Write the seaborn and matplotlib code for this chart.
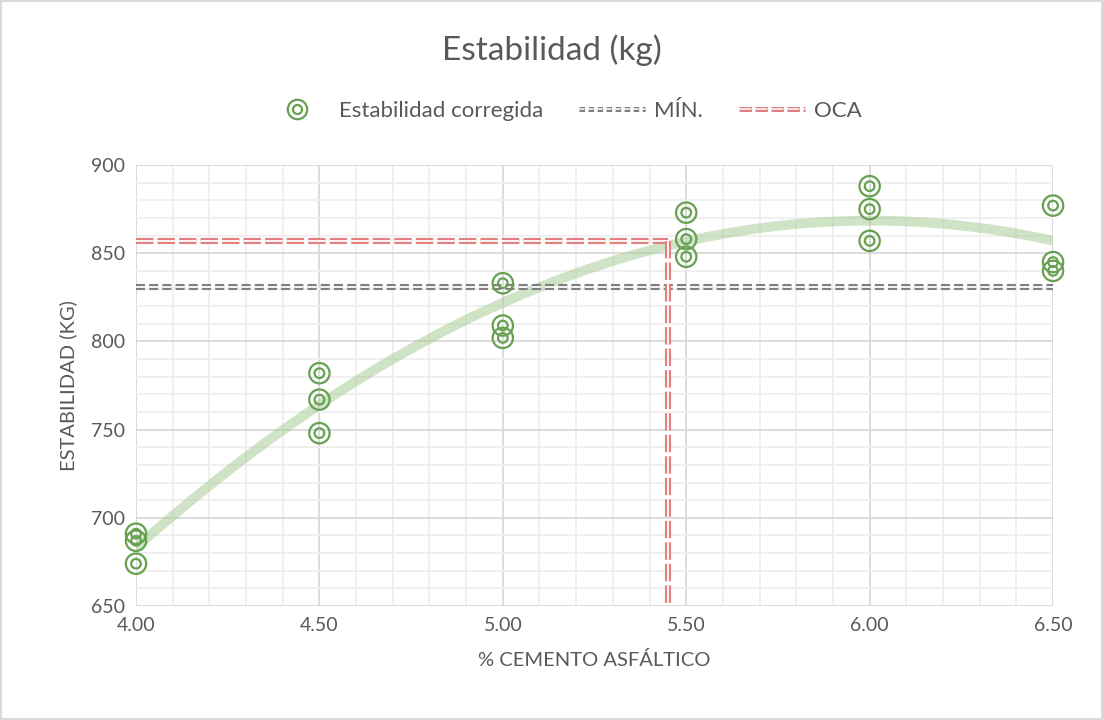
import numpy as np
import pandas as pd
import matplotlib
matplotlib.use("Agg")
import matplotlib.pyplot as plt
import matplotlib.patheffects as pe
from matplotlib.lines import Line2D
from matplotlib.legend_handler import HandlerTuple
from matplotlib.ticker import MultipleLocator, FormatStrFormatter
import seaborn as sns

# Marshall test results: asphalt content (%) vs corrected stability (kg)
asphalt_content = [4.0, 4.0, 4.0,
                   4.5, 4.5, 4.5,
                   5.0, 5.0, 5.0,
                   5.5, 5.5, 5.5,
                   6.0, 6.0, 6.0,
                   6.5, 6.5, 6.5]
stability = [691, 687, 674,
             782, 767, 748,
             833, 809, 802,
             873, 858, 848,
             888, 875, 857,
             877, 845, 840]

min_stability = 831      # specification minimum (kg)
oca_content = 5.45       # optimum asphalt content (%)
oca_stability = 857      # stability at optimum content (kg)

x_ticks = [4.0, 4.5, 5.0, 5.5, 6.0, 6.5]
y_ticks = [650, 700, 750, 800, 850, 900]

df = pd.DataFrame({"asfalto": asphalt_content, "estabilidad": stability})

sns.set_theme(style="white")
plt.rcParams["font.family"] = ["Lato", "DejaVu Sans"]
plt.rcParams["lines.scale_dashes"] = False

TEXT = "#595959"
GREEN = "#66A050"
TREND = "#A9CD98"
RED = "#E3807F"
GRAY = "#7F7F7F"

fig = plt.figure(figsize=(11.03, 7.2), dpi=100)
fig.patch.set_edgecolor("#D9D9D9")
fig.patch.set_linewidth(1.5)
ax = fig.add_axes([0.1233, 0.1583, 0.8314, 0.6125])

# Second-order polynomial trend line
sns.regplot(data=df, x="asfalto", y="estabilidad", order=2, ci=None,
            scatter=False, truncate=True, ax=ax,
            line_kws=dict(color=TREND, lw=7, alpha=0.55, solid_capstyle="butt", zorder=3))

# Double-ring markers
sns.scatterplot(data=df, x="asfalto", y="estabilidad", ax=ax, marker="o", s=215,
                facecolor="none", edgecolor=GREEN, linewidth=1.6, clip_on=False, zorder=5)
sns.scatterplot(data=df, x="asfalto", y="estabilidad", ax=ax, marker="o", s=48,
                facecolor="none", edgecolor=GREEN, linewidth=1.6, clip_on=False, zorder=5)


def double_line(color, width=4.4, gap=1.3):
    return [pe.Stroke(linewidth=width, foreground=color),
            pe.Stroke(linewidth=gap, foreground="white")]


# Minimum stability requirement
ax.plot([x_ticks[0], x_ticks[-1]], [min_stability, min_stability], color=GRAY, lw=1,
        dashes=(6.5, 3.0), path_effects=double_line(GRAY), zorder=4)
# Optimum asphalt content guide lines
ax.plot([x_ticks[0], oca_content], [oca_stability, oca_stability], color=RED, lw=1,
        dashes=(12.5, 3.0), path_effects=double_line(RED), zorder=4)
ax.plot([oca_content, oca_content], [oca_stability, y_ticks[0]], color=RED, lw=1,
        dashes=(12.5, 3.0), path_effects=double_line(RED), zorder=4)

ax.set_xlim(x_ticks[0], x_ticks[-1])
ax.set_ylim(y_ticks[0], y_ticks[-1])
ax.xaxis.set_major_locator(MultipleLocator(0.5))
ax.xaxis.set_minor_locator(MultipleLocator(0.1))
ax.yaxis.set_major_locator(MultipleLocator(50))
ax.yaxis.set_minor_locator(MultipleLocator(10))
ax.xaxis.set_major_formatter(FormatStrFormatter("%.2f"))
ax.grid(which="major", color="#D9D9D9", lw=1.3)
ax.grid(which="minor", color="#EFEFEF", lw=1.3)
ax.set_axisbelow(True)
for s in ax.spines.values():
    s.set_visible(False)
ax.tick_params(axis="both", which="both", length=0, labelsize=14, labelcolor=TEXT, pad=8)

ax.set_xlabel("% CEMENTO ASFÁLTICO", fontsize=14.5, color=TEXT, labelpad=12)
ax.set_ylabel("ESTABILIDAD (KG)", fontsize=14.5, color=TEXT, labelpad=10)
fig.suptitle("Estabilidad (kg)", x=0.5, y=0.952, fontsize=24, color=TEXT)

marker_handle = (Line2D([], [], ls="none", marker="o", ms=14, mfc="none", mec=GREEN, mew=1.6),
                 Line2D([], [], ls="none", marker="o", ms=6.5, mfc="none", mec=GREEN, mew=1.6))
min_handle = Line2D([], [], color=GRAY, lw=1, dashes=(4.0, 2.5), path_effects=double_line(GRAY, 3.6, 1.1))
oca_handle = Line2D([], [], color=RED, lw=1, dashes=(9.0, 2.5), path_effects=double_line(RED, 3.6, 1.1))
fig.legend([marker_handle, min_handle, oca_handle], ["Estabilidad corregida", "MÍN.", "OCA"],
           handler_map={tuple: HandlerTuple(ndivide=1, pad=0)},
           loc="center", bbox_to_anchor=(0.510, 0.846), ncol=3, frameon=False,
           fontsize=16, labelcolor=TEXT, handlelength=3.0, handletextpad=0.4, columnspacing=1.6)

fig.savefig("out.png", dpi=100)
